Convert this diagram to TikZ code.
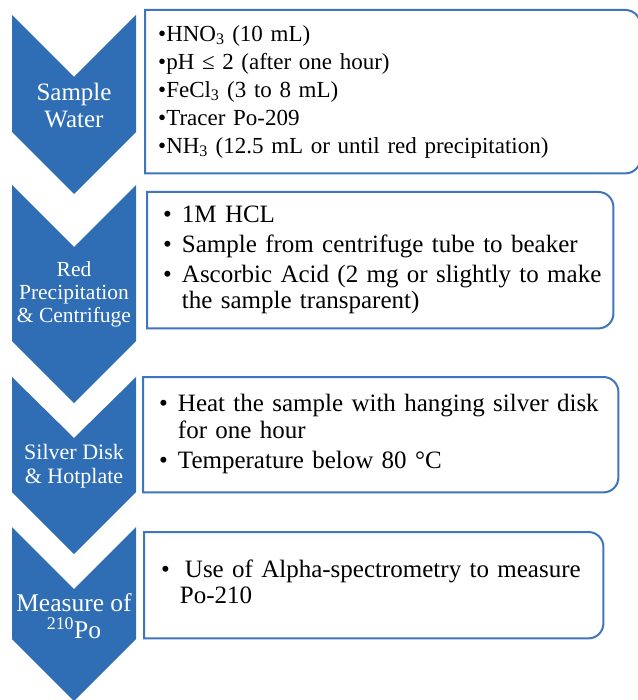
\documentclass[tikz,border=0pt]{standalone}
\usepackage{fontspec}
\setmainfont{Liberation Serif}
\usetikzlibrary{positioning,calc}
\definecolor{cChev}{HTML}{2F6EB5}
\definecolor{cLine}{HTML}{3F74BE}

\begin{document}
\begin{tikzpicture}[
    x=1pt, y=-1pt,
    chev/.style={fill=cChev, draw=none},
    lbl/.style={text=white, align=center, inner sep=0pt},
    stepbox/.style={anchor=north west, inner ysep=0pt, align=left, font=\fontsize{25}{26.5}\selectfont},
    edge/.style={draw=cLine, line width=2pt}
]
\useasboundingbox (0,0) rectangle (637,700);

% chevrons down the left side
\fill[chev] (12,15) -- (74,77) -- (136,15) -- (136,132) -- (74,194) -- (12,132) -- cycle;
\fill[chev] (12,185) -- (74,247) -- (136,185) -- (136,341) -- (74,403) -- (12,341) -- cycle;
\fill[chev] (12,377) -- (74,438) -- (136,377) -- (136,492) -- (74,554) -- (12,492) -- cycle;
\fill[chev] (12,527) -- (74,589) -- (136,527) -- (136,639) -- (74,701) -- (12,639) -- cycle;

\node[lbl, font=\fontsize{25}{27}\selectfont] (c1) at (74,106) {Sample\\Water};
\node[lbl, font=\fontsize{21.5}{23}\selectfont] (c2) at (74,294) {Red\\Precipitation\\\& Centrifuge};
\node[lbl, font=\fontsize{22}{24}\selectfont] (c3) at (74,466) {Silver Disk\\\& Hotplate};
\node[lbl, font=\fontsize{25.5}{27}\selectfont] (c4) at (74,616) {Measure of\\\textsuperscript{210}Po};

% step boxes
\node[stepbox, font=\fontsize{23}{28}\selectfont, minimum width=495pt, minimum height=163pt, inner xsep=13pt, text width=469pt] (b1) at (145,10)
  {•HNO\textsubscript{3} (10 mL)\\
   •pH ≤ 2 (after one hour)\\
   •FeCl\textsubscript{3} (3 to 8 mL)\\
   •Tracer Po-209\\
   •NH\textsubscript{3} (12.5 mL or until red precipitation)};
\node[stepbox, minimum width=466pt, minimum height=136pt, inner xsep=16pt, text width=434pt] (b2) at (147,192)
  {\begin{tabular}{@{}l@{\hspace{10pt}}l@{}}
   • & 1M HCL\\[3.5pt]
   • & Sample from centrifuge tube to beaker\\[3.5pt]
   • & Ascorbic Acid (2 mg or slightly to make\\
     & the sample transparent)
   \end{tabular}};
\node[stepbox, minimum width=475pt, minimum height=115pt, inner xsep=16pt, text width=443pt] (b3) at (143,377)
  {\begin{tabular}{@{}l@{\hspace{10pt}}l@{}}
   • & Heat the sample with hanging silver disk\\
     & for one hour\\[3.5pt]
   • & Temperature below 80 °C
   \end{tabular}};
\node[stepbox, minimum width=459pt, minimum height=106pt, inner xsep=17pt, text width=425pt] (b4) at (144,532)
  {\begin{tabular}{@{}l@{\hspace{10pt}}l@{}}
   • & \hspace{5pt}Use of Alpha-spectrometry to measure\\
     & Po-210
   \end{tabular}};

\foreach \n in {b1,b2,b3,b4}
  \draw[edge] (\n.south west) -- (\n.north west) -- ([xshift=-15pt]\n.north east)
    arc[start angle=90, end angle=0, radius=15pt] -- ([yshift=15pt]\n.south east)
    arc[start angle=0, end angle=-90, radius=15pt] -- cycle;

\end{tikzpicture}
\end{document}
